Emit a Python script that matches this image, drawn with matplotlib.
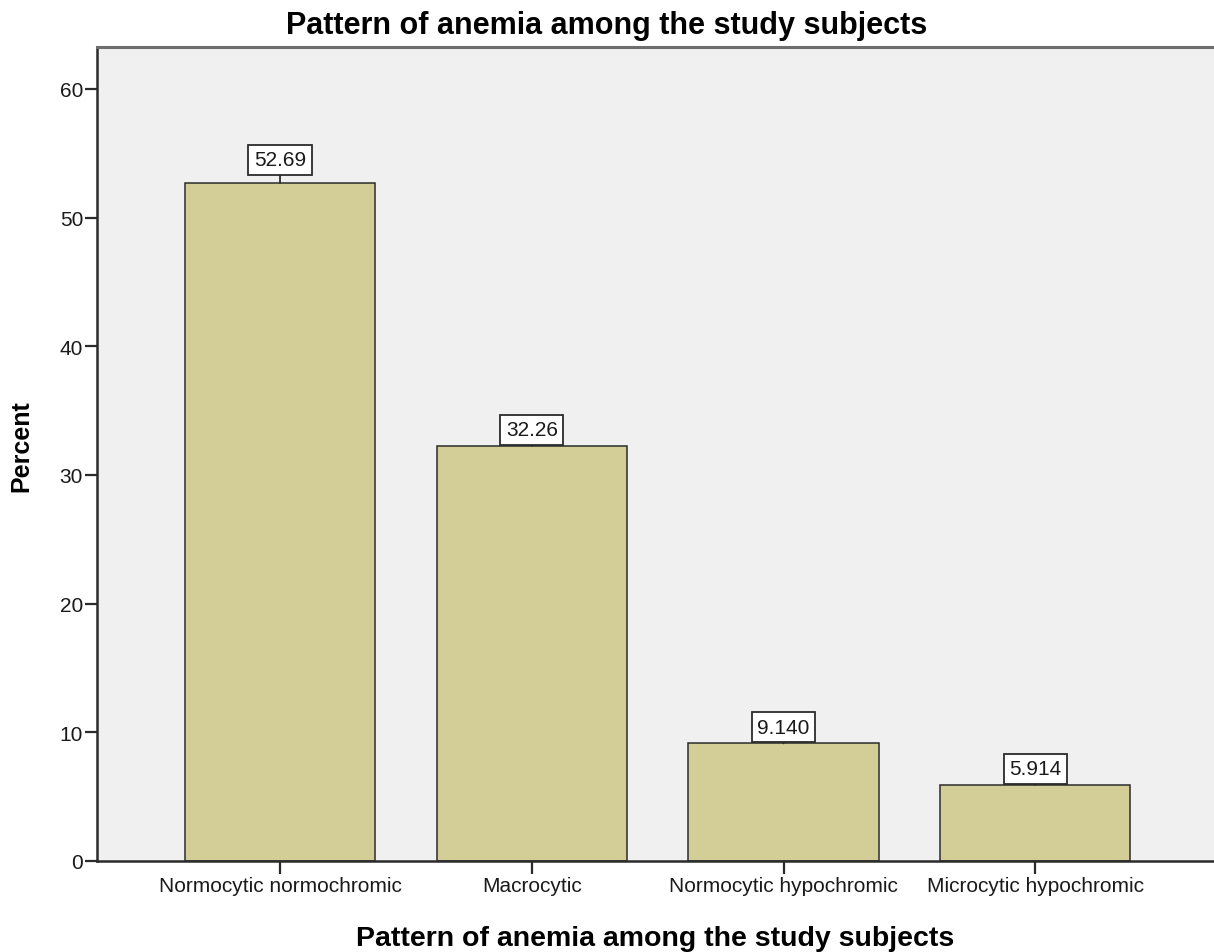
import matplotlib
matplotlib.use('Agg')
import matplotlib.pyplot as plt

categories = ['Normocytic normochromic', 'Macrocytic', 'Normocytic hypochromic', 'Microcytic hypochromic']
percent = [52.69, 32.26, 9.140, 5.914]
value_labels = ['52.69', '32.26', '9.140', '5.914']
yticks = [0, 10, 20, 30, 40, 50, 60]
# gap (points) between bar top and label box, SPSS puts the first one a bit higher
label_gap = [5.8, 0.7, 0.7, 0.7]

plt.rcParams['font.family'] = ['Liberation Sans', 'DejaVu Sans']

fig = plt.figure(figsize=(12.14, 9.53), dpi=100)
ax = fig.add_axes([0.0799, 0.0955, 0.9201, 0.8541])
ax.set_facecolor('#F0F0F0')

x = list(range(len(categories)))
ax.bar(x, percent, width=0.755, color='#D3CE97', edgecolor='#2b2b2b', linewidth=1.1, zorder=2)

for xi, v, lab, g in zip(x, percent, value_labels, label_gap):
    ax.annotate(lab, xy=(xi, v), xytext=(0, g + 4.1), textcoords='offset points',
                ha='center', va='bottom', fontsize=15, color='#1a1a1a', zorder=3,
                bbox=dict(boxstyle='square,pad=0.27', fc='white', ec='#2b2b2b', lw=1.3),
                arrowprops=dict(arrowstyle='-', color='#2b2b2b', lw=1.3, shrinkA=0, shrinkB=0))

ax.set_xlim(-0.727, 3.71)
ax.set_ylim(0, 63.25)
ax.set_yticks(yticks)
ax.set_xticks(x)
ax.set_xticklabels(categories, fontsize=15, color='#1a1a1a')
ax.tick_params(axis='y', labelsize=15, labelcolor='#1a1a1a', length=9, width=1.6, color='#2b2b2b', pad=1)
ax.tick_params(axis='x', length=9, width=1.6, color='#2b2b2b', pad=2)

ax.spines['right'].set_visible(False)
ax.spines['left'].set_color('#2b2b2b')
ax.spines['left'].set_linewidth(1.8)
ax.spines['bottom'].set_color('#2b2b2b')
ax.spines['bottom'].set_linewidth(1.8)
ax.spines['top'].set_color('#6e6e6e')
ax.spines['top'].set_linewidth(2.2)

fig.text(0.5, 0.9643, 'Pattern of anemia among the study subjects', ha='center', va='baseline',
         fontsize=22, fontweight='bold')
fig.text(0.54, 0.0075, 'Pattern of anemia among the study subjects', ha='center', va='baseline',
         fontsize=20.5, fontweight='bold')
fig.text(0.018, 0.532, 'Percent', ha='center', va='center', rotation=90,
         fontsize=18, fontweight='bold')

fig.savefig('out.png', dpi=100)
